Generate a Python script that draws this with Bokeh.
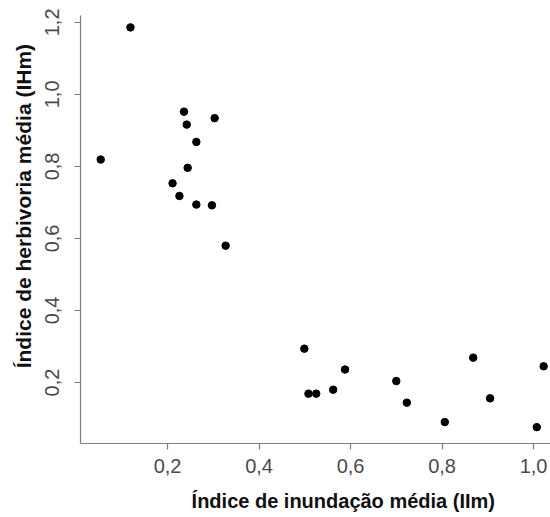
from bokeh.plotting import figure
from bokeh.models import ColumnDataSource, Range1d, FixedTicker
from bokeh.embed import file_html
from bokeh.resources import INLINE

# Data
inundacao = [0.119, 0.054, 0.236, 0.303, 0.242, 0.263, 0.244, 0.211, 0.226, 0.263,
             0.297, 0.327, 0.499, 0.508, 0.525, 0.562, 0.588, 0.700, 0.723, 0.806,
             0.868, 0.905, 1.007, 1.022]
herbivoria = [1.186, 0.819, 0.952, 0.934, 0.916, 0.868, 0.796, 0.753, 0.718, 0.694,
              0.692, 0.580, 0.294, 0.169, 0.169, 0.180, 0.236, 0.204, 0.144, 0.090,
              0.269, 0.156, 0.076, 0.245]

x_ticks = [0.2, 0.4, 0.6, 0.8, 1.0]
x_tick_labels = ["0,2", "0,4", "0,6", "0,8", "1,0"]
y_ticks = [0.2, 0.4, 0.6, 0.8, 1.0, 1.2]
y_tick_labels = ["0,2", "0,4", "0,6", "0,8", "1,0", "1,2"]

x_title = "Índice de inundação média (IIm)"
y_title = "Índice de herbivoria média (IHm)"

src = ColumnDataSource(data=dict(x=inundacao, y=herbivoria))

p = figure(width=550, height=517, output_backend="svg", toolbar_location=None,
           x_range=Range1d(0.0098, 1.037), y_range=Range1d(0.0306, 1.219))
p.min_border = 0
p.min_border_left = 80
p.min_border_top = 15
p.min_border_bottom = 74
p.min_border_right = 0
p.outline_line_color = None
p.background_fill_color = "white"
p.border_fill_color = "white"
p.xgrid.visible = False
p.ygrid.visible = False

p.scatter(x="x", y="y", source=src, size=7.5, color="black")

AX = "#7f7f7f"
for ax in (p.xaxis[0], p.yaxis[0]):
    ax.axis_line_color = AX
    ax.axis_line_width = 1.2
    ax.major_tick_line_color = AX
    ax.major_tick_line_width = 1.2
    ax.major_tick_out = 6
    ax.major_tick_in = 0
    ax.minor_tick_line_color = None
    ax.major_label_text_font = "Liberation Sans"
    ax.major_label_text_font_size = "20px"
    ax.major_label_text_color = "#4a4a4a"
    ax.axis_label_text_font = "Liberation Sans"
    ax.axis_label_text_font_style = "bold"
    ax.axis_label_text_color = "#111111"

NB = "\u00a0"
p.xaxis[0].ticker = FixedTicker(ticks=x_ticks)
p.xaxis[0].major_label_overrides = dict(zip(x_ticks, x_tick_labels))
p.xaxis[0].major_label_standoff = 9
p.xaxis[0].axis_label = NB * 10 + x_title
p.xaxis[0].axis_label_text_font_size = "20px"
p.xaxis[0].axis_label_standoff = 14

p.yaxis[0].ticker = FixedTicker(ticks=y_ticks)
p.yaxis[0].major_label_overrides = dict(zip(y_ticks, y_tick_labels))
p.yaxis[0].major_label_orientation = "vertical"
p.yaxis[0].major_label_standoff = 15
p.yaxis[0].axis_label = NB * 8 + y_title
p.yaxis[0].axis_label_text_font_size = "21px"
p.yaxis[0].axis_label_standoff = 8

open("out.html", "w").write(file_html(p, INLINE))
